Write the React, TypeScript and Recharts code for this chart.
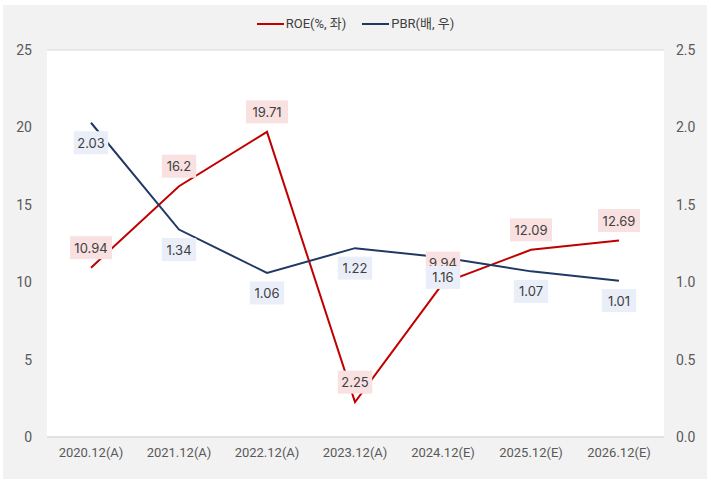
import React from 'react';
import { LineChart, Line, XAxis, YAxis, CartesianGrid, LabelList } from 'recharts';

const categories = [
    '2020.12(A)',
    '2021.12(A)',
    '2022.12(A)',
    '2023.12(A)',
    '2024.12(E)',
    '2025.12(E)',
    '2026.12(E)',
];
const roe = [10.94, 16.2, 19.71, 2.25, 9.94, 12.09, 12.69];
const pbr = [2.03, 1.34, 1.06, 1.22, 1.16, 1.07, 1.01];
const leftTicks = [0, 5, 10, 15, 20, 25];
const rightTicks = [0, 0.5, 1.0, 1.5, 2.0, 2.5];

const data = categories.map((c, i) => ({ name: c, roe: roe[i], pbr: pbr[i] }));

const RED = '#c00000';
const NAVY = '#203864';
const TICK = { fontSize: 14, fill: '#595959', fontFamily: 'Roboto, sans-serif' };
const XTICK = { fontSize: 13, fill: '#595959', fontFamily: 'Roboto, sans-serif' };

function textWidth(s: string) {
    let w = 0;
    for (const ch of s) w += ch === '.' ? 3.6 : 7.6;
    return w;
}

const makeLabel = (above: boolean, bg: string) => (props: any) => {
    const { x, y, value } = props;
    const s = String(value);
    const w = textWidth(s) + 8;
    const h = 23;
    const cy = above ? y - 20 : y + 20;
    return (
        <g>
            <rect x={x - w / 2} y={cy - h / 2} width={w} height={h} fill={bg} />
            <text
                x={x}
                y={cy}
                textAnchor="middle"
                dominantBaseline="central"
                fontSize={13}
                fill="#404040"
                fontFamily="Inter, sans-serif"
            >
                {s}
            </text>
        </g>
    );
};

function LegendBox() {
    const item = (color: string, text: string) => (
        <div style={{ display: 'flex', alignItems: 'center', marginRight: 16 }}>
            <div style={{ width: 27, height: 2, background: color, marginRight: 2 }} />
            <span>{text}</span>
        </div>
    );
    return (
        <div
            style={{
                position: 'absolute',
                left: 0,
                top: 15,
                width: 727,
                display: 'flex',
                justifyContent: 'center',
                fontSize: 13,
                color: '#404040',
                fontFamily: "Roboto, 'Noto Sans CJK KR', sans-serif",
                lineHeight: '18px',
            }}
        >
            {item(RED, 'ROE(%, 좌)')}
            {item(NAVY, 'PBR(배, 우)')}
        </div>
    );
}

export default function App() {
    return (
        <div style={{ position: 'absolute', left: 0, top: 0, width: 711, height: 485, background: '#fff' }}>
            <div style={{ position: 'absolute', left: 3, top: 5, width: 704, height: 474, background: '#f2f2f2' }} />
            <div style={{ position: 'absolute', left: 0, top: 0 }}>
                <LineChart width={711} height={485} data={data} margin={{ top: 50, right: 0, bottom: 18, left: 0 }}>
                    <CartesianGrid vertical={false} stroke="#d9d9d9" fill="#ffffff" />
                    <XAxis
                        dataKey="name"
                        tick={XTICK}
                        axisLine={{ stroke: '#d9d9d9' }}
                        tickLine={false}
                        tickSize={6}
                        tickMargin={5}
                        interval={0}
                        height={30}
                        padding={{ left: 44, right: 45 }}
                    />
                    <YAxis
                        yAxisId="left"
                        width={47}
                        domain={[0, 25]}
                        ticks={leftTicks}
                        tick={TICK}
                        axisLine={false}
                        tickLine={false}
                        tickSize={6}
                        tickMargin={9}
                    />
                    <YAxis
                        yAxisId="right"
                        orientation="right"
                        width={47}
                        domain={[0, 2.5]}
                        ticks={rightTicks}
                        tickFormatter={(v: number) => v.toFixed(1)}
                        tick={TICK}
                        axisLine={false}
                        tickLine={false}
                        tickSize={6}
                        tickMargin={6}
                    />
                    <Line
                        yAxisId="left"
                        type="linear"
                        dataKey="roe"
                        stroke={RED}
                        strokeWidth={2}
                        dot={false}
                        isAnimationActive={false}
                    >
                        <LabelList dataKey="roe" content={makeLabel(true, '#f9e1e1')} />
                    </Line>
                    <Line
                        yAxisId="right"
                        type="linear"
                        dataKey="pbr"
                        stroke={NAVY}
                        strokeWidth={2}
                        dot={false}
                        isAnimationActive={false}
                    >
                        <LabelList dataKey="pbr" content={makeLabel(false, '#e9eef8')} />
                    </Line>
                </LineChart>
            </div>
            <LegendBox />
        </div>
    );
}
